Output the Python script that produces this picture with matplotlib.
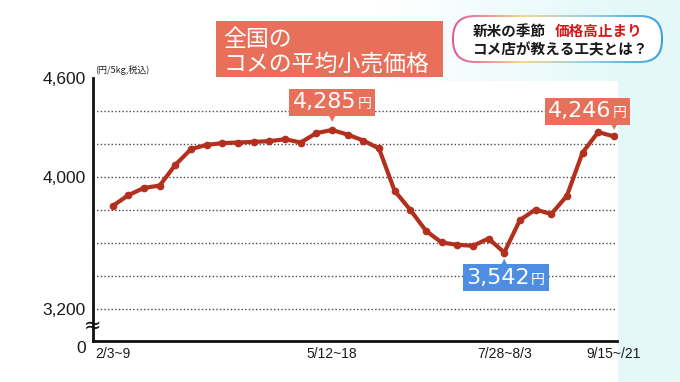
import matplotlib
matplotlib.use('Agg')
import matplotlib.pyplot as plt
from matplotlib.offsetbox import TextArea, HPacker, AnnotationBbox
from matplotlib.patches import FancyBboxPatch, Rectangle
import matplotlib.colors as mcolors
import numpy as np

JP = ['Noto Sans CJK JP', 'DejaVu Sans']
NUM = ['Liberation Sans', 'DejaVu Sans']
plt.rcParams['font.family'] = JP

# ---- data (円/5kg, weekly, 2/3~9 .. 9/15~21) ----
prices = [3825, 3890, 3934, 3948, 4074, 4169, 4195, 4205, 4209, 4213, 4217, 4229,
          4209, 4266, 4285, 4257, 4221, 4173, 3916, 3801, 3674, 3603, 3589, 3583,
          3627, 3542, 3739, 3803, 3775, 3886, 4148, 4272, 4246]
weeks = np.arange(len(prices))
tick_idx = [0, 14, 25, 32]
tick_labels = ['2/3~9', '5/12~18', '7/28~8/3', '9/15~/21']
ytick_vals = [3006, 3200, 4000, 4600]
ytick_labels = ['0', '3,200', '4,000', '4,600']
grid_vals = [3200, 3400, 3600, 3800, 4000, 4200, 4400]
y_range = (3006, 4600)
x_range = (-1.26, 32.2)
hi_idx, last_idx, lo_idx = 14, 32, 25
title_lines = ['全国の', 'コメの平均小売価格']
unit_label = '(円/5kg,税込)'
head1_black, head1_red = '新米の季節', '価格高止まり'
head2 = 'コメ店が教える工夫とは？'

ORANGE = '#e8705a'
BLUE = '#4d8de2'
LINE = '#b2301d'

W, H = 680, 382
fig = plt.figure(figsize=(W / 100, H / 100), dpi=100)
fig.patch.set_facecolor('white')

# ---- background layer in pixel coordinates ----
bg = fig.add_axes([0, 0, 1, 1], zorder=-1)
bg.set_xlim(0, W)
bg.set_ylim(H, 0)
bg.axis('off')
c_white = np.array(mcolors.to_rgb('#ffffff'))
c_cyan = np.array(mcolors.to_rgb('#e4f8fa'))
xs = np.linspace(0, 1, W)
t = np.clip((xs * W - 380) / 240, 0, 1)[None, :, None]
grad = c_white * (1 - t) + c_cyan * t
bg.imshow(np.repeat(grad, 2, axis=0), extent=(0, W, H, 0), aspect='auto', zorder=0)
bg.add_patch(Rectangle((0, 81), 618, 301, fc='white', ec='none', zorder=1))

# title box
bg.add_patch(Rectangle((216, 21), 227, 56, fc=ORANGE, ec='none', zorder=2))
bg.text(223, 40, title_lines[0], color='white', fontsize=16.5, va='center', ha='left', zorder=3)
bg.text(223, 64, title_lines[1], color='white', fontsize=16.5, va='center', ha='left', zorder=3)

# headline pill with gradient border
outer = FancyBboxPatch((452, 15), 211, 48, boxstyle='round,pad=0,rounding_size=23',
                       fc='none', ec='none', zorder=2)
bg.add_patch(outer)
stops = [mcolors.to_rgb(c) for c in ['#e2589c', '#f3d98a', '#8fd0ea', '#3aa0dc']]
gx = np.linspace(0, 1, 300)
seg = np.clip(gx * (len(stops) - 1), 0, len(stops) - 1 - 1e-9)
i0 = seg.astype(int)
fr = (seg - i0)[:, None]
row = np.array(stops)[i0] * (1 - fr) + np.array(stops)[i0 + 1] * fr
im = bg.imshow(np.repeat(row[None, :, :], 2, axis=0), extent=(452, 663, 63, 15),
               aspect='auto', zorder=2)
im.set_clip_path(outer)
bg.add_patch(FancyBboxPatch((454, 17), 207, 44, boxstyle='round,pad=0,rounding_size=21',
                            fc='white', ec='none', zorder=3))
bg.text(473, 31, head1_black, color='#1a1a1a', fontsize=10.5, fontweight='bold',
        va='center', ha='left', zorder=4)
bg.text(555, 31, head1_red, color='#d81818', fontsize=10.5, fontweight='bold',
        va='center', ha='left', zorder=4)
bg.text(473, 49, head2, color='#1a1a1a', fontsize=10.5, fontweight='bold',
        va='center', ha='left', zorder=4)

# unit label
bg.text(95, 70, unit_label, color='#222222', fontsize=6.5, va='center', ha='left', zorder=4)

# ---- main chart ----
ax = fig.add_axes([93 / W, 41 / H, 524 / W, 263 / H])
ax.set_facecolor('none')
ax.set_xlim(*x_range)
ax.set_ylim(*y_range)
for g in grid_vals:
    ax.axhline(g, color='#4a4a4a', lw=1.0, ls=(0, (1, 1.6)), zorder=1)
ax.plot(weeks, prices, color=LINE, lw=3, marker='o', ms=4.5,
        solid_joinstyle='round', zorder=3)

for s in ['top', 'right']:
    ax.spines[s].set_visible(False)
for s in ['left', 'bottom']:
    ax.spines[s].set_color('#111111')
    ax.spines[s].set_linewidth(2)
ax.tick_params(length=0)
ax.set_yticks(ytick_vals)
ax.set_yticklabels(ytick_labels, fontsize=12.5, color='#1a1a1a', family=NUM)
ax.tick_params(axis='y', pad=5)
ax.set_xticks(tick_idx)
ax.set_xticklabels(tick_labels, fontsize=10, color='#1a1a1a', family=NUM)
ax.tick_params(axis='x', pad=4)
for lab in ax.get_yticklabels():
    if lab.get_text() == '0':
        lab.set_y(3006)
        lab.set_va('top')

# axis break mark
fig.text(93 / W, 1 - 326 / H, '≈', fontsize=15, family=['DejaVu Sans'],
         ha='center', va='center', color='#111111', zorder=10)


def value_box(idx, color, dx, dy, tri_dy, tri):
    val = prices[idx]
    num = TextArea(f'{val:,}', textprops=dict(color='white', fontsize=16, family=['DejaVu Sans']))
    yen = TextArea('円', textprops=dict(color='white', fontsize=10, family=JP))
    pack = HPacker(children=[num, yen], align='baseline', pad=0, sep=1)
    ab = AnnotationBbox(pack, (weeks[idx], val), xybox=(dx, dy), xycoords='data',
                        boxcoords='offset points', frameon=True, pad=0.25,
                        bboxprops=dict(boxstyle='square,pad=0.25', fc=color, ec='none'),
                        zorder=5)
    ab.set_clip_on(False)
    ax.add_artist(ab)
    ax.annotate(tri, xy=(weeks[idx], val), xytext=(0, tri_dy), textcoords='offset points',
                ha='center', va='center', fontsize=6, color=color, family=['DejaVu Sans'],
                zorder=5, annotation_clip=False)


value_box(hi_idx, ORANGE, 0, 20, 8, '▼')
value_box(last_idx, ORANGE, -19, 18, 7, '▼')
value_box(lo_idx, BLUE, 1, -18, -6.5, '▲')

fig.savefig('out.png', dpi=100, facecolor=fig.get_facecolor())
